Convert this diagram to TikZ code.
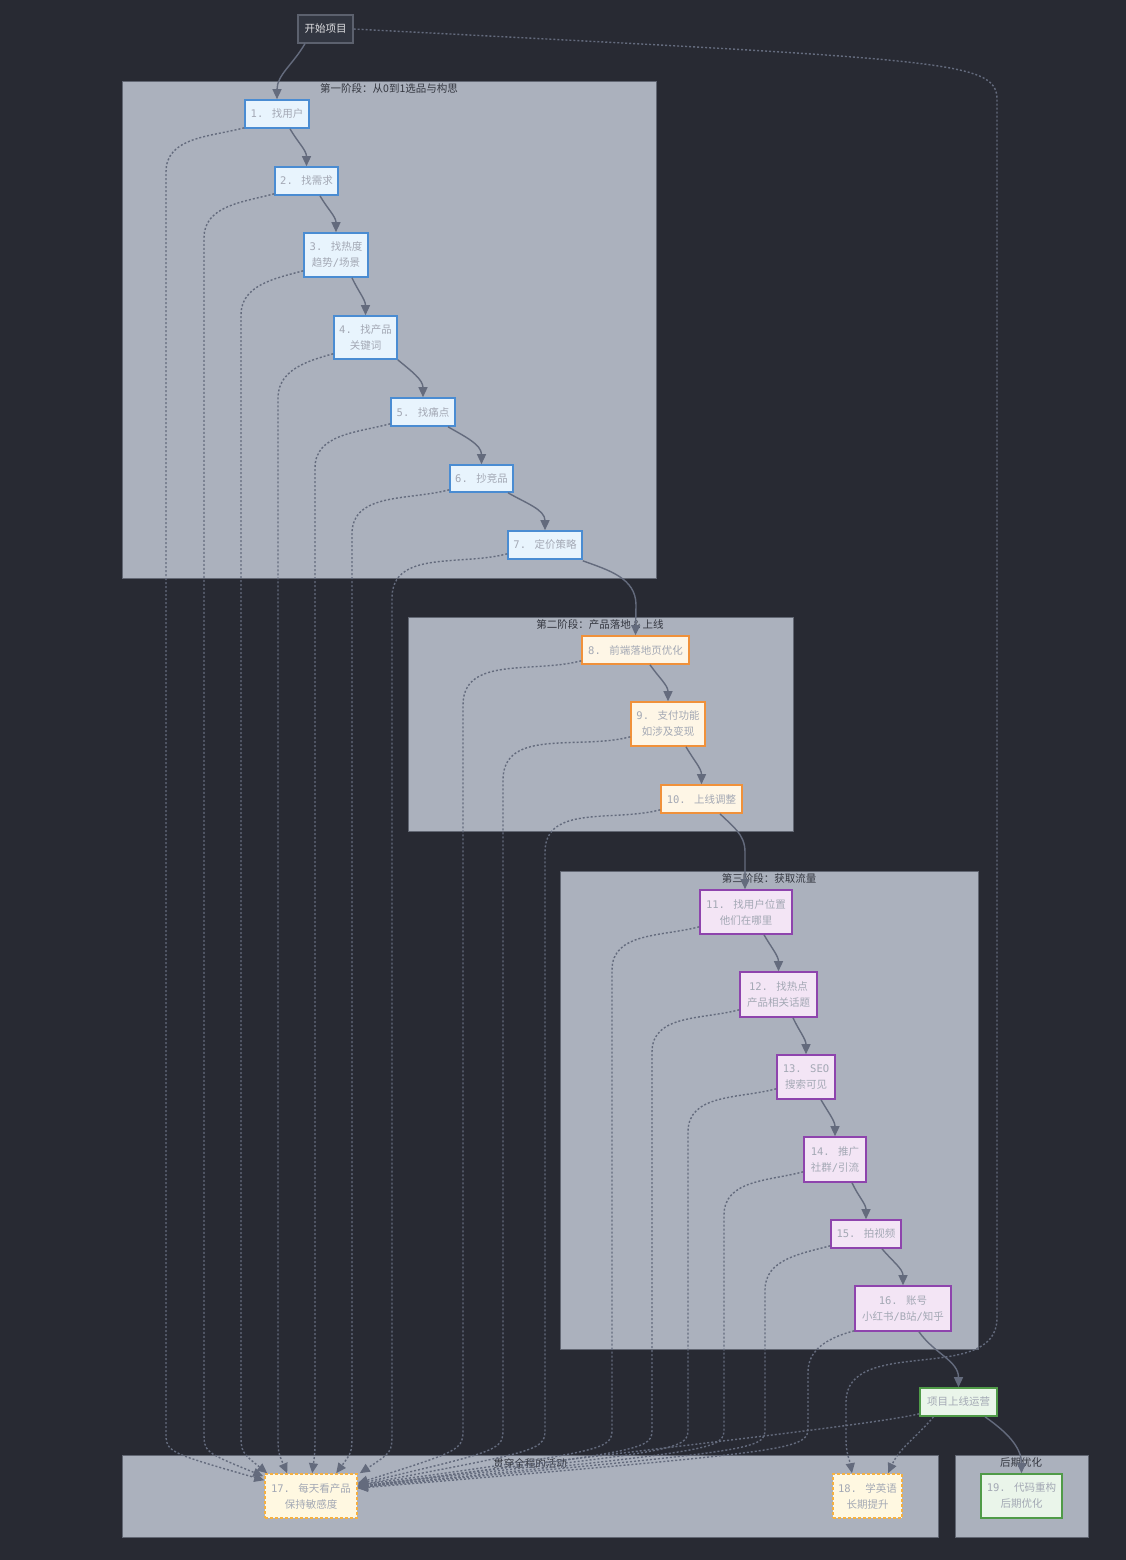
\documentclass[tikz,border=0pt]{standalone}
\usepackage{fontspec}
\setmainfont{Noto Sans CJK SC}
\newfontfamily\mono{DejaVu Sans Mono}
\usetikzlibrary{arrows.meta}

\definecolor{bg}{RGB}{40,42,51}
\definecolor{grp}{RGB}{171,177,189}
\definecolor{grpline}{RGB}{98,103,115}
\definecolor{grptext}{RGB}{52,55,64}
\definecolor{edgecol}{RGB}{100,107,125}
\definecolor{txt}{RGB}{163,168,180}
\definecolor{startfill}{RGB}{50,54,65}
\definecolor{startline}{RGB}{92,97,110}
\definecolor{starttext}{RGB}{225,225,228}
\definecolor{bluefill}{RGB}{232,244,253}
\definecolor{blueline}{RGB}{74,140,210}
\definecolor{orfill}{RGB}{254,246,230}
\definecolor{orline}{RGB}{240,145,58}
\definecolor{pufill}{RGB}{243,229,245}
\definecolor{puline}{RGB}{142,68,173}
\definecolor{grfill}{RGB}{234,245,234}
\definecolor{grline}{RGB}{80,155,72}
\definecolor{yefill}{RGB}{255,248,225}
\definecolor{yeline}{RGB}{245,176,65}

\tikzset{
  txtfont/.style={font=\fontsize{10.5}{16}\selectfont},
  box/.style={draw, line width=1.6pt, inner sep=0pt, align=center, text=txt, txtfont},
  startbox/.style={box, fill=startfill, draw=startline, line width=1.2pt, text=starttext},
  bluebox/.style={box, fill=bluefill, draw=blueline},
  orbox/.style={box, fill=orfill, draw=orline},
  pubox/.style={box, fill=pufill, draw=puline},
  grbox/.style={box, fill=grfill, draw=grline},
  yebox/.style={box, fill=yefill, draw=yeline, dash pattern=on 3pt off 2pt},
  grpbox/.style={fill=grp, draw=grpline, line width=1pt},
  grplabel/.style={text=grptext, txtfont, inner sep=0pt},
  flow/.style={draw=edgecol, line width=1.4pt, -{Triangle[length=10pt,width=9pt]}},
  dotflow/.style={flow, dash pattern=on 2pt off 2pt},
}

\begin{document}
\begin{tikzpicture}[x=1pt,y=1pt]
\fill[bg] (0,0) rectangle (1126,-1560);
\useasboundingbox (0,0) rectangle (1126,-1560);

% groups
\draw[grpbox] (122,-82) rectangle (656,-578);
\node[grplabel] (g1) at (389,-89) {第一阶段：从0到1选品与构思};
\draw[grpbox] (408,-617) rectangle (793,-831);
\node[grplabel] (g2) at (600,-625) {第二阶段：产品落地 \& 上线};
\draw[grpbox] (560,-871) rectangle (978,-1349);
\node[grplabel] (g3) at (769,-878) {第三阶段：获取流量};
\draw[grpbox] (122,-1455) rectangle (938,-1537);
\node[grplabel] (g4) at (530,-1463) {贯穿全程的活动};
\draw[grpbox] (955,-1455) rectangle (1088,-1537);
\node[grplabel] (g5) at (1021,-1463) {后期优化};

% nodes
\node[startbox, minimum width=55pt, minimum height=28pt] (st) at (325.5,-29) {开始项目};

\node[bluebox, minimum width=64pt, minimum height=28pt] (n1) at (277,-114) {{\mono 1. }找用户};
\node[bluebox, minimum width=63pt, minimum height=28pt] (n2) at (306.5,-181) {{\mono 2. }找需求};
\node[bluebox, minimum width=64pt, minimum height=44pt] (n3) at (336,-255) {{\mono 3. }找热度\\趋势{\mono /}场景};
\node[bluebox, minimum width=63pt, minimum height=43pt] (n4) at (365.5,-337.5) {{\mono 4. }找产品\\关键词};
\node[bluebox, minimum width=64pt, minimum height=28pt] (n5) at (423,-412) {{\mono 5. }找痛点};
\node[bluebox, minimum width=63pt, minimum height=27pt] (n6) at (481.5,-478.5) {{\mono 6. }抄竞品};
\node[bluebox, minimum width=74pt, minimum height=28pt] (n7) at (545,-545) {{\mono 7. }定价策略};

\node[orbox, minimum width=107pt, minimum height=28pt] (n8) at (635.5,-650) {{\mono 8. }前端落地页优化};
\node[orbox, minimum width=74pt, minimum height=44pt] (n9) at (668,-724) {{\mono 9. }支付功能\\如涉及变现};
\node[orbox, minimum width=81pt, minimum height=28pt] (n10) at (701.5,-799) {{\mono 10. }上线调整};

\node[pubox, minimum width=92pt, minimum height=44pt] (n11) at (746,-912) {{\mono 11. }找用户位置\\他们在哪里};
\node[pubox, minimum width=77pt, minimum height=45pt] (n12) at (778.5,-994.5) {{\mono 12. }找热点\\产品相关话题};
\node[pubox, minimum width=58pt, minimum height=44pt] (n13) at (806,-1077) {{\mono 13. SEO}\\搜索可见};
\node[pubox, minimum width=62pt, minimum height=45pt] (n14) at (835,-1159.5) {{\mono 14. }推广\\社群{\mono /}引流};
\node[pubox, minimum width=70pt, minimum height=28pt] (n15) at (866,-1234) {{\mono 15. }拍视频};
\node[pubox, minimum width=96pt, minimum height=45pt] (n16) at (903,-1308.5) {{\mono 16. }账号\\小红书{\mono /B}站{\mono /}知乎};

\node[grbox, minimum width=77pt, minimum height=28pt] (ops) at (958.5,-1402) {项目上线运营};

\node[yebox, minimum width=92pt, minimum height=44pt] (n17) at (311,-1496) {{\mono 17. }每天看产品\\保持敏感度};
\node[yebox, minimum width=69pt, minimum height=44pt] (n18) at (867.5,-1496) {{\mono 18. }学英语\\长期提升};
\node[grbox, minimum width=81pt, minimum height=44pt] (n19) at (1021.5,-1496) {{\mono 19. }代码重构\\后期优化};

% main sequence
\draw[flow] ([xshift=-20.5pt]st.south) to[out=-120,in=90] (n1.north);
\draw[flow] ([xshift=13pt]n1.south) to[out=-60,in=90] (n2.north);
\draw[flow] ([xshift=13.5pt]n2.south) to[out=-60,in=90] (n3.north);
\draw[flow] ([xshift=16pt]n3.south) to[out=-65,in=90] (n4.north);
\draw[flow] (n4.south east) to[out=-40,in=90] (n5.north);
\draw[flow] ([xshift=25pt]n5.south) to[out=-30,in=90] (n6.north);
\draw[flow] ([xshift=26.5pt]n6.south) to[out=-30,in=90] (n7.north);
\draw[flow] ([yshift=-1pt]n7.south east) to[out=-20,in=90] (636,-605) -- (n8.north);
\draw[flow] ([xshift=14.5pt]n8.south) to[out=-55,in=90] (n9.north);
\draw[flow] ([xshift=18pt]n9.south) to[out=-60,in=90] (n10.north);
\draw[flow] ([xshift=18.5pt]n10.south) to[out=-45,in=90] (745,-852) -- ([xshift=-1pt]n11.north);
\draw[flow] ([xshift=18pt]n11.south) to[out=-60,in=90] (n12.north);
\draw[flow] ([xshift=14.5pt]n12.south) to[out=-65,in=90] (n13.north);
\draw[flow] ([xshift=15pt]n13.south) to[out=-60,in=90] (n14.north);
\draw[flow] ([xshift=17pt]n14.south) to[out=-65,in=90] (n15.north);
\draw[flow] ([xshift=16pt]n15.south) to[out=-50,in=90] (n16.north);
\draw[flow] ([xshift=16pt]n16.south) to[out=-55,in=90] (ops.north);
\draw[flow] ([xshift=26.5pt]ops.south) to[out=-35,in=90] (n19.north);

% daily habit links
\draw[dotflow] ([yshift=1pt]n1.south west) to[out=195,in=90] (166,-172) -- (166,-1432) .. controls (166,-1452) .. ([yshift=-7pt]n17.north west);
\draw[dotflow] ([yshift=2pt]n2.south west) to[out=195,in=90] (204,-238) -- (204,-1432) .. controls (204,-1452) .. ([xshift=-1pt,yshift=-3pt]n17.north west);
\draw[dotflow] ([yshift=7pt]n3.south west) to[out=195,in=90] (241,-315) -- (241,-1432) .. controls (241,-1452) .. ([xshift=3pt]n17.north west);
\draw[dotflow] ([yshift=6pt]n4.south west) to[out=195,in=90] (278,-398) -- (278,-1432) .. controls (278,-1452) .. ([xshift=23pt]n17.north west);
\draw[dotflow] ([yshift=3pt]n5.south west) to[out=195,in=90] (315,-468) -- (315,-1432) .. controls (315,-1452) .. ([xshift=48pt]n17.north west);
\draw[dotflow] ([yshift=3pt]n6.south west) to[out=195,in=90] (352,-534) -- (352,-1432) .. controls (352,-1452) .. ([xshift=72pt]n17.north west);
\draw[dotflow] ([yshift=6pt]n7.south west) to[out=195,in=90] (392,-598) -- (392,-1432) .. controls (392,-1452) .. ([xshift=2pt]n17.north east);
\draw[dotflow] ([yshift=4pt]n8.south west) to[out=195,in=90] (463,-705) -- (463,-1428) .. controls (463,-1450) .. ([yshift=-10pt]n17.north east);
\draw[dotflow] ([yshift=10pt]n9.south west) to[out=195,in=90] (503,-780) -- (503,-1428) .. controls (503,-1450) .. ([yshift=-11pt]n17.north east);
\draw[dotflow] ([yshift=4pt]n10.south west) to[out=195,in=90] (545,-852) -- (545,-1428) .. controls (545,-1450) .. ([yshift=-12pt]n17.north east);
\draw[dotflow] ([yshift=8pt]n11.south west) to[out=195,in=90] (612,-970) -- (612,-1428) .. controls (612,-1450) .. ([yshift=-12pt]n17.north east);
\draw[dotflow] ([yshift=8pt]n12.south west) to[out=195,in=90] (652,-1052) -- (652,-1428) .. controls (652,-1450) .. ([yshift=-13pt]n17.north east);
\draw[dotflow] ([yshift=11pt]n13.south west) to[out=195,in=90] (688,-1132) -- (688,-1428) .. controls (688,-1450) .. ([yshift=-13pt]n17.north east);
\draw[dotflow] ([yshift=11pt]n14.south west) to[out=195,in=90] (724,-1215) -- (724,-1428) .. controls (724,-1450) .. ([yshift=-14pt]n17.north east);
\draw[dotflow] ([yshift=3pt]n15.south west) to[out=195,in=90] (765,-1290) -- (765,-1428) .. controls (765,-1450) .. ([yshift=-14pt]n17.north east);
\draw[dotflow] ([yshift=1pt]n16.south west) to[out=195,in=90] (808,-1372) -- (808,-1426) .. controls (808,-1450) .. ([yshift=-15pt]n17.north east);
\draw[dotflow] ([yshift=3pt]ops.south west) .. controls (860,-1428) and (520,-1462) .. ([yshift=-15pt]n17.north east);

% English learning links
\draw[dotflow] (st.east) .. controls (950,-60) and (997,-60) .. (997,-100) -- (997,-1318) to[out=-90,in=90] (846,-1402) -- (846,-1440) to[out=-90,in=100] ([xshift=-15.5pt]n18.north);
\draw[dotflow] ([xshift=-25pt]ops.south) to[out=230,in=65] ([xshift=20.5pt]n18.north);
\end{tikzpicture}
\end{document}
